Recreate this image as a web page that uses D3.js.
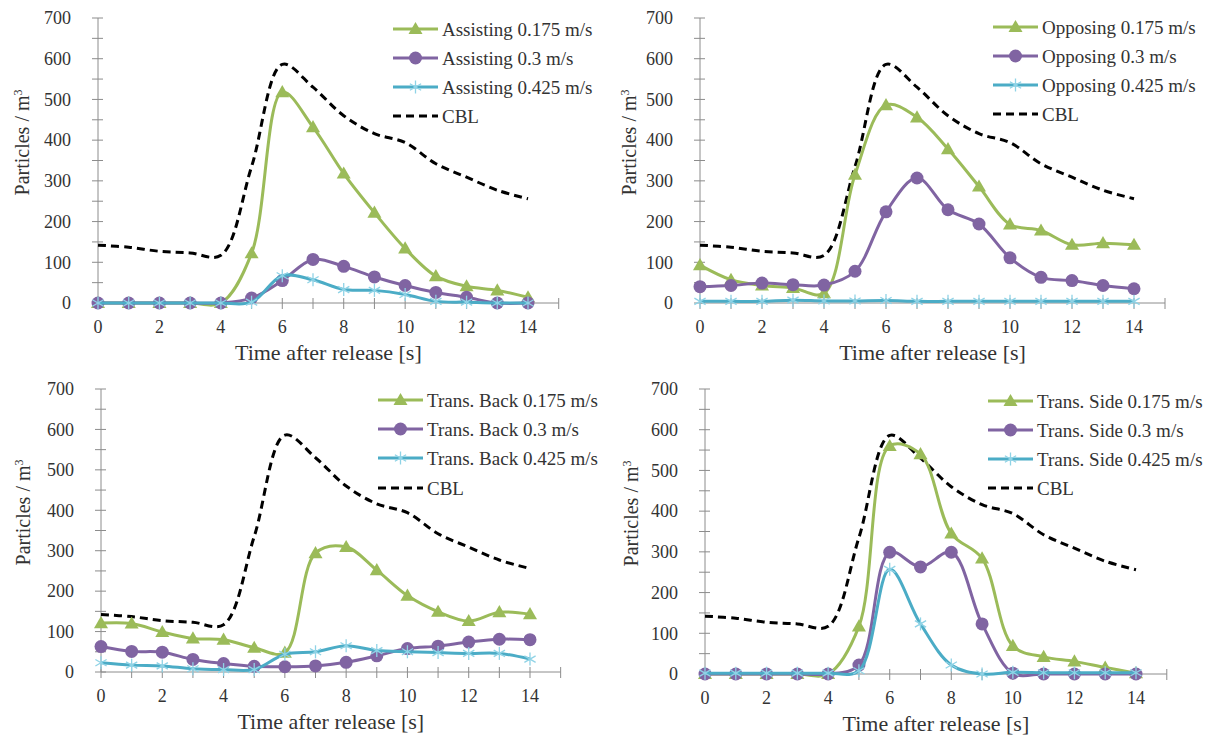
<!DOCTYPE html>
<html><head><meta charset="utf-8">
<script src="https://cdn.jsdelivr.net/npm/d3@7"></script>
<style>
html,body{margin:0;padding:0;background:#fff;}
svg text{font-family:"Liberation Serif", Tinos, "Times New Roman", serif;}
</style></head>
<body><svg id="chart" width="1209" height="735"></svg>
<script>
const time = [0,1,2,3,4,5,6,7,8,9,10,11,12,13,14];
const yTicks = [0,100,200,300,400,500,600,700];
const xTicks = [0,2,4,6,8,10,12,14];
const cbl = [142,137,127,123,117,335,586,530,460,416,394,342,309,277,256];

const assisting175 = [0,0,0,0,0,122,518,432,318,222,134,66,41,31,14];
const assisting300 = [0,0,0,0,0,12,55,107,90,64,43,26,14,0,0];
const assisting425 = [0,0,0,0,0,2,67,57,33,31,21,4,2,0,0];

const opposing175 = [93,57,43,37,24,315,486,456,378,286,193,178,143,147,143];
const opposing300 = [40,43,49,45,44,78,224,307,229,194,111,63,55,43,35];
const opposing425 = [4,4,4,7,5,5,6,4,4,4,4,4,4,4,4];

const back175 = [121,120,99,83,80,60,48,294,309,252,189,149,126,148,143];
const back300 = [63,51,49,31,21,14,13,15,24,40,58,64,74,81,80];
const back425 = [23,17,15,8,6,6,44,50,65,53,50,48,46,46,32];

const side175 = [0,0,0,0,0,117,560,540,345,284,69,42,31,16,2];
const side300 = [0,0,0,0,0,22,299,263,299,123,2,0,0,0,0];
const side425 = [2,2,2,2,2,8,257,123,22,0,4,3,3,3,3];

const colors = {g:"#9bbb59", p:"#8064a2", c:"#4bacc6", k:"#000"};
const textCol = "#333";

const panels = [
  {px0:98, px14:528, py0:303, py700:18, legX:393, legY:[29,58,87,116], name:"Assisting",
   series:[assisting175,assisting300,assisting425], ytitleX:29},
  {px0:700, px14:1134, py0:303, py700:18, legX:993, legY:[27,56,85,114], name:"Opposing",
   series:[opposing175,opposing300,opposing425], ytitleX:636},
  {px0:101, px14:530, py0:672, py700:389, legX:378, legY:[400,429,458,488], name:"Trans. Back",
   series:[back175,back300,back425], ytitleX:30},
  {px0:705, px14:1136, py0:674, py700:389, legX:988, legY:[401,430,459,488], name:"Trans. Side",
   series:[side175,side300,side425], ytitleX:638}
];
const speeds = ["0.175 m/s","0.3 m/s","0.425 m/s"];
const styles = [{col:colors.g, m:"tri"},{col:colors.p, m:"circ"},{col:colors.c, m:"star"}];

const svg = d3.select("#chart");
const curve = d3.curveCatmullRom.alpha(0.5);

function marker(g, type, col, x, y){
  if(type==="tri"){
    g.append("path").attr("d", d3.symbol(d3.symbolTriangle, 85)()).attr("transform",`translate(${x},${y+1})`).attr("fill",col);
  } else if(type==="circ"){
    g.append("circle").attr("cx",x).attr("cy",y).attr("r",6.5).attr("fill",col);
  } else {
    const r=6.5;
    for(let a=0;a<3;a++){
      const ang = Math.PI/2 + a*Math.PI/3;
      g.append("line").attr("x1",x-r*Math.cos(ang)).attr("y1",y-r*Math.sin(ang))
        .attr("x2",x+r*Math.cos(ang)).attr("y2",y+r*Math.sin(ang))
        .attr("stroke","#8fd3e6").attr("stroke-width",1.3);
    }
  }
}

panels.forEach(P=>{
  const x = d3.scaleLinear().domain([0,14]).range([P.px0,P.px14]);
  const y = d3.scaleLinear().domain([0,700]).range([P.py0,P.py700]);
  const g = svg.append("g");
  const axCol = "#8c8c8c";
  g.append("line").attr("x1",x(0)).attr("x2",x(0)).attr("y1",y(0)).attr("y2",y(700)).attr("stroke",axCol).attr("stroke-width",1);
  d3.range(0,701,50).forEach(v=>{
    g.append("line").attr("x1",x(0)-6).attr("x2",x(0)+5).attr("y1",y(v)).attr("y2",y(v)).attr("stroke",axCol);
  });
  yTicks.forEach(v=>{
    g.append("text").attr("x",x(0)-27).attr("y",y(v)).attr("dy","0.35em").attr("text-anchor","end")
      .attr("font-size",18).attr("fill",textCol).text(v);
  });
  g.append("line").attr("x1",x(0)).attr("x2",x(15)).attr("y1",y(0)).attr("y2",y(0)).attr("stroke",axCol);
  d3.range(0,16).forEach(v=>{
    g.append("line").attr("x1",x(v)).attr("x2",x(v)).attr("y1",y(0)-5).attr("y2",y(0)+6).attr("stroke",axCol);
  });
  xTicks.forEach(v=>{
    g.append("text").attr("x",x(v)).attr("y",y(0)+30).attr("text-anchor","middle").attr("font-size",18).attr("fill",textCol).text(v);
  });
  g.append("text").attr("x",(x(0)+x(15))/2).attr("y",y(0)+57).attr("text-anchor","middle")
    .attr("font-size",22).attr("fill",textCol).text("Time after release [s]");
  const yt = g.append("text").attr("transform",`translate(${P.ytitleX},${(y(0)+y(700))/2-18}) rotate(-90)`)
    .attr("text-anchor","middle").attr("font-size",20).attr("fill",textCol);
  yt.append("tspan").text("Particles / m");
  yt.append("tspan").attr("font-size",12).attr("dy","-0.6em").text("3");

  g.append("path").datum(cbl).attr("fill","none").attr("stroke","#000").attr("stroke-width",3)
    .attr("stroke-dasharray","8,5")
    .attr("d", d3.line().x((d,i)=>x(time[i])).y(d=>y(d)).curve(curve));
  P.series.forEach((s,si)=>{
    const st = styles[si];
    g.append("path").datum(s).attr("fill","none").attr("stroke",st.col).attr("stroke-width",3)
      .attr("d", d3.line().x((d,i)=>x(time[i])).y(d=>y(d)).curve(curve));
    s.forEach((d,i)=>marker(g, st.m, st.col, x(time[i]), y(d)));
  });
  const lw = 45;
  P.series.forEach((s,si)=>{
    const st = styles[si], ly = P.legY[si];
    g.append("line").attr("x1",P.legX).attr("x2",P.legX+lw).attr("y1",ly).attr("y2",ly).attr("stroke",st.col).attr("stroke-width",3);
    marker(g, st.m, st.col, P.legX+lw/2, ly);
    g.append("text").attr("x",P.legX+lw+4).attr("y",ly).attr("dy","0.35em").attr("font-size",19).attr("fill",textCol)
      .text(P.name+" "+speeds[si]);
  });
  const ly = P.legY[3];
  g.append("line").attr("x1",P.legX).attr("x2",P.legX+lw).attr("y1",ly).attr("y2",ly).attr("stroke","#000").attr("stroke-width",3).attr("stroke-dasharray","8,5");
  g.append("text").attr("x",P.legX+lw+4).attr("y",ly).attr("dy","0.35em").attr("font-size",19).attr("fill",textCol).text("CBL");
});
</script></body></html>
